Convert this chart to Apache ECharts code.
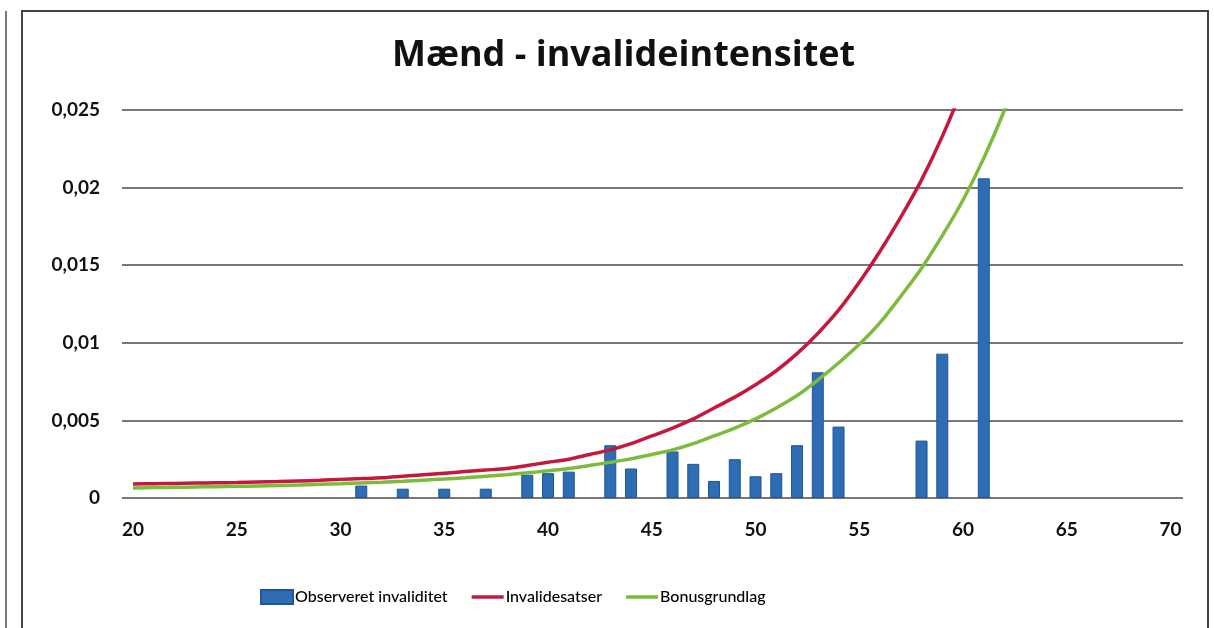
<!DOCTYPE html>
<html>
<head>
<meta charset="utf-8">
<title>Mænd - invalideintensitet</title>
<script src="https://cdn.jsdelivr.net/npm/echarts@6/dist/echarts.min.js"></script>
<style>
  html, body { margin: 0; padding: 0; background: #fff; }
  #chart { width: 1214px; height: 628px; }
</style>
</head>
<body>
<div id="chart"></div>
<script>
// observed invalidity (age -> rate)
const barAges = [31, 33, 35, 37, 39, 40, 41, 43, 44, 46, 47, 48, 49, 50, 51, 52, 53, 54, 58, 59, 61];
const barValues = [0.0008, 0.0006, 0.0006, 0.0006, 0.0015, 0.0016, 0.0017, 0.0034, 0.0019, 0.0030, 0.0022,
    0.0011, 0.0025, 0.0014, 0.0016, 0.0034, 0.0081, 0.0046, 0.0037, 0.0093, 0.0206];

// model curves, one value per age from 20
const lineAges = [20, 21, 22, 23, 24, 25, 26, 27, 28, 29, 30, 31, 32, 33, 34, 35, 36, 37, 38, 39, 40, 41,
    42, 43, 44, 45, 46, 47, 48, 49, 50, 51, 52, 53, 54, 55, 56, 57, 58, 59, 60, 61, 62, 63];
const invalidesatser = [0.0009, 0.00092, 0.00094, 0.00096, 0.00098, 0.0010, 0.00103, 0.00106, 0.0011, 0.00114,
    0.0012, 0.00125, 0.0013, 0.0014, 0.0015, 0.0016, 0.0017, 0.0018, 0.0019, 0.0021, 0.0023, 0.0025,
    0.0028, 0.0031, 0.0035, 0.0040, 0.0045, 0.0051, 0.0058, 0.0065, 0.0073, 0.0082, 0.0093, 0.0106,
    0.0121, 0.0139, 0.0159, 0.0181, 0.0205, 0.0233, 0.0265, 0.0300, 0.0340, 0.0385];
const bonusgrundlag = [0.00065, 0.00067, 0.00069, 0.00071, 0.00073, 0.00075, 0.00078, 0.00081, 0.00084, 0.00088,
    0.00092, 0.00097, 0.00102, 0.00108, 0.00115, 0.00122, 0.0013, 0.0014, 0.0015, 0.00162, 0.00175, 0.0019,
    0.0021, 0.0023, 0.00252, 0.0028, 0.0031, 0.0035, 0.0040, 0.0045, 0.0051, 0.0058, 0.0066, 0.0076,
    0.0087, 0.0099, 0.0113, 0.0130, 0.0148, 0.0169, 0.0192, 0.0219, 0.0250, 0.0285];

const xTicks = [20, 25, 30, 35, 40, 45, 50, 55, 60, 65, 70];

const font = 'Lato, "Open Sans", sans-serif';
const lineIcon = 'path://M0,0h36v4h-36z';
const chart = echarts.init(document.getElementById('chart'));

const pairs = (xs, ys) => xs.map((x, i) => [x, ys[i]]);

chart.setOption({
    animation: false,
    backgroundColor: '#fff',
    title: {
        text: 'Mænd - invalideintensitet',
        left: 387,
        top: 33,
        textStyle: { fontFamily: '"Open Sans", Lato, sans-serif', fontSize: 36, fontWeight: 'bold', color: '#111' }
    },
    graphic: [
        { type: 'rect', shape: { x: 22, y: 11, width: 1186, height: 640 },
          style: { fill: 'none', stroke: '#444', lineWidth: 2 } },
        { type: 'line', shape: { x1: 6, y1: 11, x2: 6, y2: 628 },
          style: { stroke: '#777', lineWidth: 2 } }
    ],
    legend: {
        left: 255,
        top: 584,
        itemWidth: 32,
        itemHeight: 14,
        itemGap: 24,
        textStyle: { fontFamily: font, fontSize: 16, fontWeight: 500, color: '#000', padding: [0, 0, 0, -3] },
        data: [
            { name: 'Observeret invaliditet', icon: 'rect' },
            { name: 'Invalidesatser', icon: lineIcon },
            { name: 'Bonusgrundlag', icon: lineIcon }
        ]
    },
    grid: { left: 122, right: 31, top: 110, bottom: 130 },
    xAxis: {
        type: 'value',
        min: 19.47,
        max: 70.6,
        axisLine: { show: false },
        axisTick: { show: false },
        splitLine: { show: false },
        axisLabel: {
            customValues: xTicks,
            fontFamily: font,
            fontSize: 19,
            fontWeight: 'bold',
            color: '#111',
            margin: 22
        }
    },
    yAxis: {
        type: 'value',
        min: 0,
        max: 0.025,
        interval: 0.005,
        axisLine: { show: false },
        axisTick: { show: false },
        splitLine: { lineStyle: { color: '#4a4a4a', width: 1.5 } },
        axisLabel: {
            fontFamily: font,
            fontSize: 19,
            fontWeight: 'bold',
            color: '#111',
            margin: 22,
            formatter: v => String(v).replace('.', ',')
        }
    },
    series: [
        {
            name: 'Observeret invaliditet',
            type: 'bar',
            barWidth: 12,
            data: pairs(barAges, barValues),
            itemStyle: { color: '#2e6db4', borderColor: '#1f5596', borderWidth: 1 }
        },
        {
            name: 'Invalidesatser',
            type: 'line',
            symbol: 'none',
            smooth: 0.3,
            clip: true,
            data: pairs(lineAges, invalidesatser),
            itemStyle: { color: '#c4183c' },
            lineStyle: { color: '#c4183c', width: 3.5 }
        },
        {
            name: 'Bonusgrundlag',
            type: 'line',
            symbol: 'none',
            smooth: 0.3,
            clip: true,
            data: pairs(lineAges, bonusgrundlag),
            itemStyle: { color: '#7dbb3c' },
            lineStyle: { color: '#7dbb3c', width: 3.5 }
        }
    ]
});
</script>
</body>
</html>
